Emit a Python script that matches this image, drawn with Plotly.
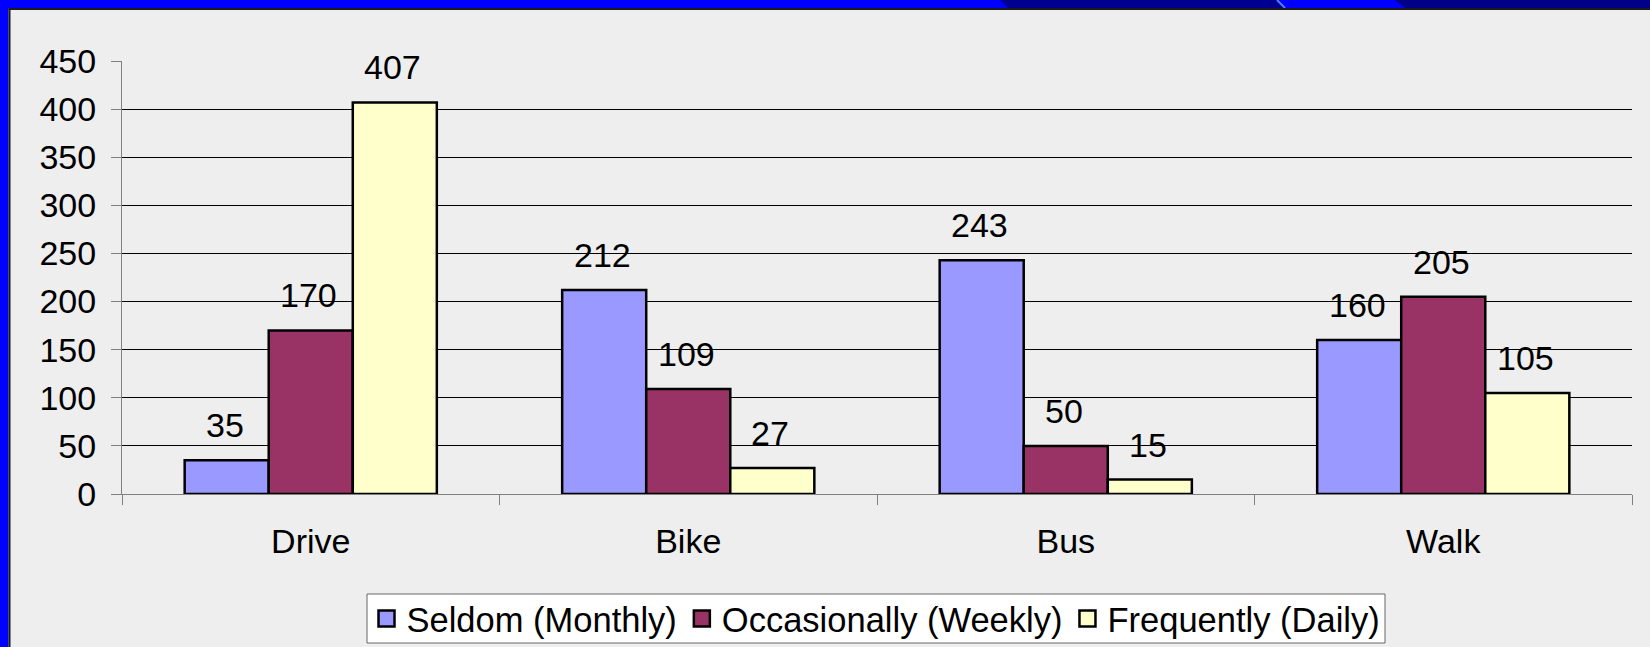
import plotly.graph_objects as go

categories = ["Drive", "Bike", "Bus", "Walk"]
series_names = ["Seldom (Monthly)", "Occasionally (Weekly)", "Frequently (Daily)"]
seldom = [35, 212, 243, 160]
occasionally = [170, 109, 50, 205]
frequently = [407, 27, 15, 105]
series_values = [seldom, occasionally, frequently]
colors = ["#9999FF", "#993366", "#FFFFCC"]
y_ticks = list(range(0, 451, 50))

W, H = 1650, 647
L, R, T, B = 122, 1632, 61, 494
FONT = "Arial, Liberation Sans, sans-serif"


def px(x):
    return (x - L) / (R - L)


def py(y):
    return (B - y) / (B - T)


fig = go.Figure()
for name, vals, col in zip(series_names, series_values, colors):
    fig.add_trace(go.Bar(
        x=categories, y=vals, name=name, showlegend=False,
        marker=dict(color=col, line=dict(color="black", width=2.5)),
    ))
# legend entries with square swatches like the original
for name, col in zip(series_names, colors):
    fig.add_trace(go.Scatter(
        x=[None], y=[None], mode="markers", name=name,
        marker=dict(symbol="square", size=16, color=col, line=dict(color="black", width=2.5)),
    ))

bar_w = 84
offsets = [-bar_w, 0, bar_w]
annotations = []
for vals, off in zip(series_values, offsets):
    for c, v in zip(categories, vals):
        annotations.append(dict(
            x=c, y=v, xref="x", yref="y", text=str(v), showarrow=False,
            xshift=off - 2, yshift=14, yanchor="bottom",
            font=dict(family=FONT, size=34, color="black"),
        ))

shapes = [
    # top band
    dict(type="rect", xref="paper", yref="paper", x0=px(0), x1=px(W), y0=py(0), y1=py(8),
         fillcolor="#0000FF", line_width=0, layer="above"),
    dict(type="path", xref="paper", yref="paper",
         path=f"M{px(1000)},{py(0)} L{px(1277)},{py(0)} L{px(1285)},{py(8)} L{px(1008)},{py(8)} Z",
         fillcolor="#000090", line_width=0, layer="above"),
    dict(type="path", xref="paper", yref="paper",
         path=f"M{px(1395)},{py(0)} L{px(W)},{py(0)} L{px(W)},{py(8)} L{px(1405)},{py(8)} Z",
         fillcolor="#000088", line_width=0, layer="above"),
    dict(type="line", xref="paper", yref="paper", x0=px(1277), x1=px(1285), y0=py(0), y1=py(8),
         line=dict(color="#4F7FFF", width=2), layer="above"),
    dict(type="rect", xref="paper", yref="paper", x0=px(8.5), x1=px(W), y0=py(8), y1=py(10),
         fillcolor="#1A1A1A", line_width=0, layer="above"),
    # left band
    dict(type="rect", xref="paper", yref="paper", x0=px(0), x1=px(8.5), y0=py(0), y1=py(H),
         fillcolor="#0000FF", line_width=0, layer="above"),
    dict(type="rect", xref="paper", yref="paper", x0=px(8.5), x1=px(10.5), y0=py(8), y1=py(H),
         fillcolor="#1A1A1A", line_width=0, layer="above"),
    # legend frame
    dict(type="rect", xref="paper", yref="paper", x0=px(367), x1=px(1385), y0=py(594), y1=py(643),
         fillcolor="white", line=dict(color="#666666", width=1), layer="above"),
]

fig.update_layout(
    width=W, height=H,
    margin=dict(l=L, r=W - R, t=T, b=H - B, pad=0, autoexpand=False),
    paper_bgcolor="#EEEEEE", plot_bgcolor="#EEEEEE",
    barmode="group", bargap=0.332, bargroupgap=0,
    font=dict(family=FONT, size=34, color="black"),
    showlegend=True,
    legend=dict(
        orientation="h", x=px(876), xanchor="center", y=py(618.5), yanchor="middle",
        bgcolor="rgba(0,0,0,0)", borderwidth=0,
        font=dict(family=FONT, size=34.5, color="black"),
        itemwidth=30, tracegroupgap=0,
    ),
    xaxis=dict(
        showline=True, linecolor="#808080", linewidth=1,
        ticks="outside", tickson="boundaries", ticklen=10, tickcolor="#808080",
        tickfont=dict(family=FONT, size=34, color="black"),
        ticklabelstandoff=17, showgrid=False, automargin=False,
    ),
    yaxis=dict(
        range=[0, 450], tickvals=y_ticks, ticktext=[str(v) for v in y_ticks],
        showline=True, linecolor="#808080", linewidth=1,
        ticks="outside", ticklen=10, tickcolor="#808080",
        showgrid=True, gridcolor="black", gridwidth=1, zeroline=False,
        tickfont=dict(family=FONT, size=34, color="black"),
        ticklabelstandoff=8, automargin=False,
    ),
    annotations=annotations,
    shapes=shapes,
)

fig.write_html(
    "out.html",
    config={"displayModeBar": False},
    post_script="document.body.style.margin='0';document.body.style.overflow='hidden';",
)
